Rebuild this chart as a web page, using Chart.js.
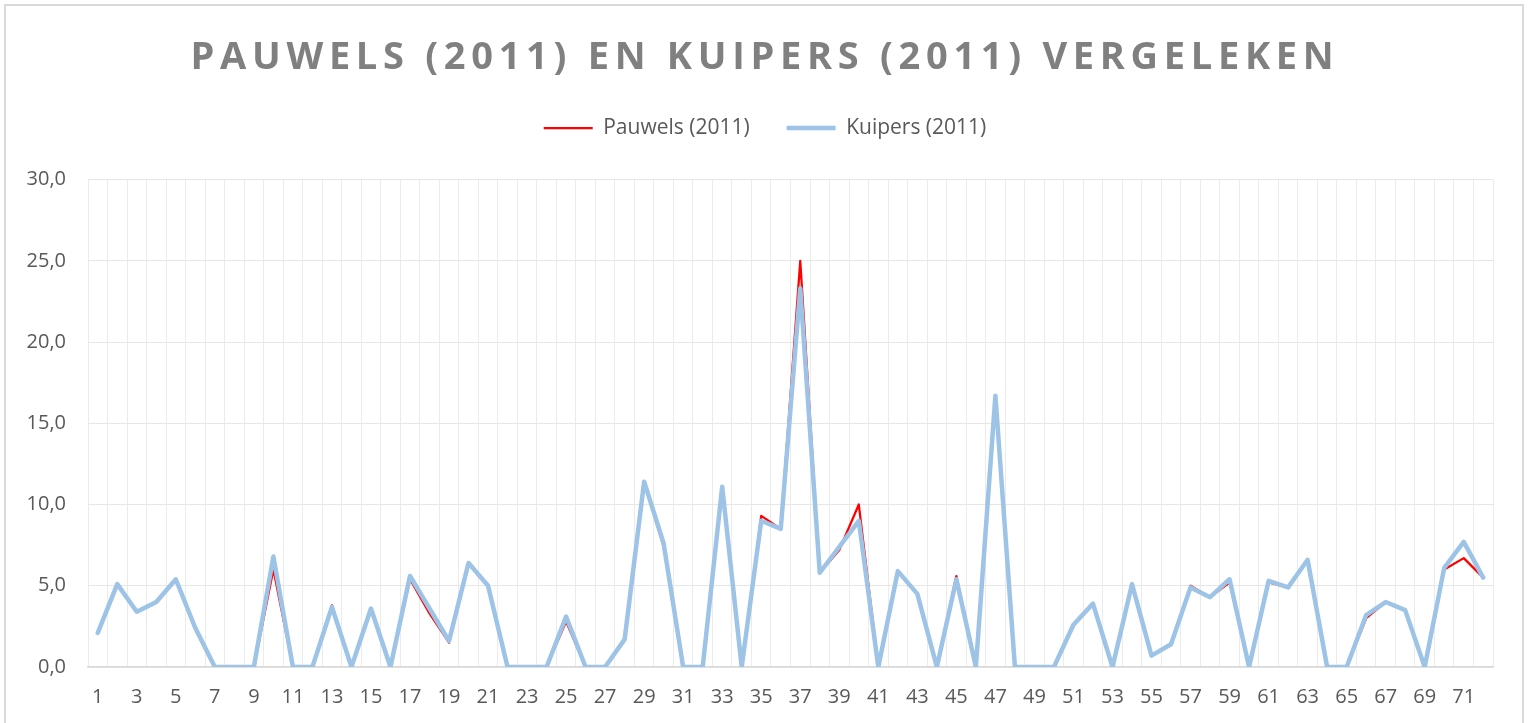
<!DOCTYPE html>
<html>
<head>
<meta charset="utf-8">
<script src="https://cdn.jsdelivr.net/npm/chart.js@4/dist/chart.umd.min.js"></script>
<style>
    html, body { margin: 0; padding: 0; background: #fff; }
    #wrap { width: 1530px; height: 723px; position: relative; }
</style>
</head>
<body>
<div id="wrap"><canvas id="chart"></canvas></div>
<script>
const categories = Array.from({ length: 72 }, (_, i) => String(i + 1));

const pauwels = [
    2.1, 5.1, 3.4, 4.0, 5.4, 2.4, 0, 0, 0, 6.0,
    0, 0, 3.8, 0, 3.6, 0, 5.4, 3.3, 1.5, 6.4,
    5.0, 0, 0, 0, 2.8, 0, 0, 1.7, 11.4, 7.4,
    0, 0, 11.0, 0, 9.3, 8.5, 25.0, 5.8, 7.2, 10.0,
    0, 5.9, 4.5, 0, 5.6, 0, 16.6, 0, 0, 0,
    2.6, 3.9, 0, 5.1, 0.7, 1.4, 5.0, 4.3, 5.2, 0,
    5.2, 4.9, 6.6, 0, 0, 3.0, 4.0, 3.5, 0, 6.0,
    6.7, 5.5
];

const kuipers = [
    2.1, 5.1, 3.4, 4.0, 5.4, 2.4, 0, 0, 0, 6.8,
    0, 0, 3.7, 0, 3.6, 0, 5.6, 3.6, 1.6, 6.4,
    5.0, 0, 0, 0, 3.1, 0, 0, 1.7, 11.4, 7.6,
    0, 0, 11.1, 0, 9.0, 8.5, 23.3, 5.8, 7.4, 9.0,
    0, 5.9, 4.5, 0, 5.4, 0, 16.7, 0, 0, 0,
    2.6, 3.9, 0, 5.1, 0.7, 1.4, 4.9, 4.3, 5.4, 0,
    5.3, 4.9, 6.6, 0, 0, 3.2, 4.0, 3.5, 0, 6.1,
    7.7, 5.5
];

const yTicks = [0, 5, 10, 15, 20, 25, 30];

const fontFamily = "'Open Sans', sans-serif";
const textColor = "#595959";

// white background, light frame, spaced title and a bit of room under the legend
const framePlugin = {
    id: "frame",
    beforeLayout(chart) {
        const ctx = chart.ctx;
        const tb = chart.titleBlock;
        if (tb && !tb._spaced) {
            const draw = tb.draw;
            tb.draw = function (area) {
                ctx.letterSpacing = "5.7px";
                draw.call(this, area);
                ctx.letterSpacing = "0px";
            };
            tb._spaced = true;
        }
        const lg = chart.legend;
        if (lg && !lg._padded) {
            const fit = lg.fit;
            lg.fit = function () {
                fit.call(this);
                this.height += 31;
            };
            lg._padded = true;
        }
    },
    beforeDraw(chart) {
        const ctx = chart.ctx;
        ctx.save();
        ctx.fillStyle = "#fff";
        ctx.fillRect(0, 0, chart.width, chart.height);
        ctx.strokeStyle = "#d9d9d9";
        ctx.lineWidth = 2;
        ctx.strokeRect(5, 5, 1518, 740);
        ctx.restore();
    }
};

const ctx = document.getElementById("chart").getContext("2d");

new Chart(ctx, {
    type: "line",
    data: {
        labels: categories,
        datasets: [
            {
                label: "Pauwels (2011)",
                data: pauwels,
                borderColor: "#ff0000",
                backgroundColor: "#ff0000",
                borderWidth: 2.25,
                order: 1
            },
            {
                label: "Kuipers (2011)",
                data: kuipers,
                borderColor: "#9dc3e6",
                backgroundColor: "#9dc3e6",
                borderWidth: 4.5,
                order: 0
            }
        ]
    },
    options: {
        responsive: true,
        maintainAspectRatio: false,
        animation: false,
        elements: {
            point: { radius: 0, hoverRadius: 0 },
            line: { tension: 0, borderJoinStyle: "round", borderCapStyle: "round" }
        },
        layout: {
            padding: 0
        },
        plugins: {
            title: {
                display: true,
                text: "PAUWELS (2011) EN KUIPERS (2011) VERGELEKEN",
                color: "#808080",
                font: { family: fontFamily, size: 38, weight: "bold" },
                padding: { top: 35, bottom: 0 }
            },
            legend: {
                position: "top",
                labels: {
                    usePointStyle: true,
                    pointStyle: "line",
                    pointStyleWidth: 49,
                    boxHeight: 21,
                    padding: 37,
                    color: textColor,
                    font: { family: fontFamily, size: 21 },
                    sort: (a, b) => a.datasetIndex - b.datasetIndex
                }
            },
            tooltip: { enabled: false }
        },
        scales: {
            x: {
                offset: true,
                afterFit: (s) => { s.height = 56; },
                grid: { offset: true, color: "#ebebeb", lineWidth: 1, drawTicks: false },
                border: { color: "#d9d9d9", width: 1.5 },
                ticks: {
                    autoSkip: false,
                    maxRotation: 0,
                    padding: 18,
                    color: textColor,
                    font: { family: fontFamily, size: 20 },
                    callback: (v, i) => (i % 2 === 0 ? categories[i] : "")
                }
            },
            y: {
                min: 0,
                max: 30,
                afterBuildTicks: (s) => { s.ticks = yTicks.map(v => ({ value: v })); },
                afterFit: (s) => { s.width = 88; },
                grid: { color: "#e6e6e6", lineWidth: 1, drawTicks: false },
                border: { display: false },
                ticks: {
                    padding: 22,
                    color: textColor,
                    font: { family: fontFamily, size: 20 },
                    callback: (v) => v.toFixed(1).replace(".", ",")
                }
            },
            // empty right-hand strip so the plot ends where the original does
            yPad: {
                position: "right",
                display: true,
                afterFit: (s) => { s.width = 37; },
                grid: { display: false },
                border: { display: false },
                ticks: { display: false }
            }
        }
    },
    plugins: [framePlugin]
});
</script>
</body>
</html>
